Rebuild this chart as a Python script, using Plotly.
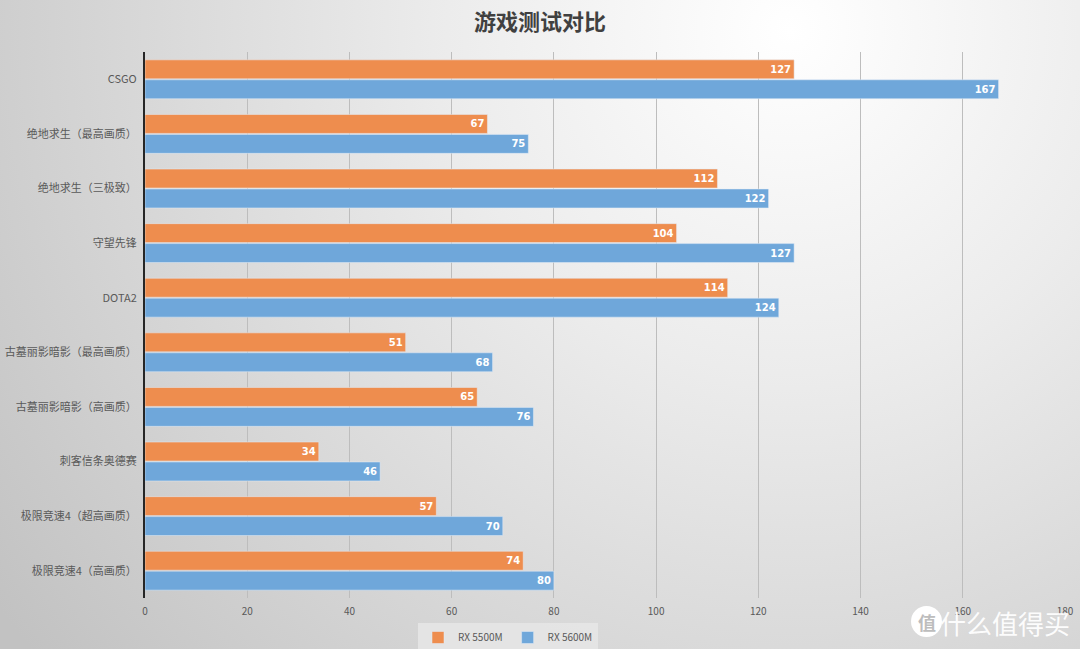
import base64

import plotly.graph_objects as go


# --------------------------------------------------
# DATA
# --------------------------------------------------

games = [
    "CSGO",
    "绝地求生（最高画质）",
    "绝地求生（三极致）",
    "守望先锋",
    "DOTA2",
    "古墓丽影暗影（最高画质）",
    "古墓丽影暗影（高画质）",
    "刺客信条奥德赛",
    "极限竞速4（超高画质）",
    "极限竞速4（高画质）",
]

rx5500m = [127, 67, 112, 104, 114, 51, 65, 34, 57, 74]
rx5600m = [167, 75, 122, 127, 124, 68, 76, 46, 70, 80]

x_ticks = [0, 20, 40, 60, 80, 100, 120, 140, 160, 180]


# --------------------------------------------------
# BACKGROUND (radial grey gradient)
# --------------------------------------------------

W, H = 1080, 649
L, R, T, B = 145, 15, 52, 51

svg = f"""<svg xmlns='http://www.w3.org/2000/svg' width='{W}' height='{H}'>
<defs>
<radialGradient id='g' gradientUnits='userSpaceOnUse' cx='790' cy='30' r='980'>
<stop offset='0' stop-color='#ffffff'/>
<stop offset='0.35' stop-color='#ececec'/>
<stop offset='1' stop-color='#c2c2c2'/>
</radialGradient>
</defs>
<rect width='{W}' height='{H}' fill='url(#g)'/>
</svg>"""

bg_src = "data:image/svg+xml;base64," + base64.b64encode(
    svg.encode("utf-8")
).decode("ascii")

pw = W - L - R
ph = H - T - B


def px_x(v):
    return (v - L) / pw


def px_y(v):
    return (H - B - v) / ph


# --------------------------------------------------
# FIGURE
# --------------------------------------------------

fig = go.Figure()

fig.add_trace(

    go.Bar(

        y=games,

        x=rx5500m,

        name="RX 5500M",

        orientation="h",

        marker=dict(color="#EE8D4E"),

        text=rx5500m,

    )

)

fig.add_trace(

    go.Bar(

        y=games,

        x=rx5600m,

        name="RX 5600M",

        orientation="h",

        marker=dict(color="#6FA7DA"),

        text=rx5600m,

    )

)

fig.update_traces(
    texttemplate="<b>%{text}</b>",
    textposition="inside",
    insidetextanchor="end",
    textfont=dict(color="white", size=10, family="DejaVu Sans"),
    cliponaxis=False
)

fig.update_layout(

    width=W,

    height=H,

    margin=dict(l=L, r=R, t=T, b=B, autoexpand=False),

    paper_bgcolor="rgba(0,0,0,0)",

    plot_bgcolor="rgba(0,0,0,0)",

    barmode="group",

    bargap=0.27,

    bargroupgap=0.05,

    font=dict(family="Noto Sans CJK SC", color="#595959", size=11),

    title=dict(
        text="<b>游戏测试对比</b>",
        x=0.5,
        xref="container",
        y=1 - 22 / H,
        yref="container",
        xanchor="center",
        yanchor="middle",
        font=dict(size=22, color="#404040", family="Noto Sans CJK SC"),
    ),

    legend=dict(
        orientation="h",
        x=px_x(508),
        xanchor="center",
        y=px_y(623),
        yanchor="top",
        bgcolor="rgba(230,230,230,0.9)",
        font=dict(size=10, color="#595959"),
        itemwidth=30,
    ),

    images=[dict(
        source=bg_src,
        xref="paper",
        yref="paper",
        x=-L / pw,
        y=1 + T / ph,
        sizex=W / pw,
        sizey=H / ph,
        sizing="stretch",
        layer="below",
        xanchor="left",
        yanchor="top",
    )],

)

fig.update_xaxes(

    range=[0, 180],

    tickvals=x_ticks,

    showgrid=True,

    gridcolor="#bdbdbd",

    gridwidth=1,

    zeroline=False,

    showline=False,

    automargin=False,

    tickfont=dict(size=10, color="#595959"),

    ticks="",

    ticklabelstandoff=6,

)

fig.update_yaxes(

    autorange="reversed",

    showline=True,

    linecolor="#262626",

    linewidth=2,

    automargin=False,

    ticks="",

    ticklabelstandoff=4,

    tickfont=dict(size=11, color="#595959"),

)

# watermark
fig.add_shape(
    type="circle",
    xref="paper", yref="paper",
    x0=px_x(911), x1=px_x(942),
    y0=px_y(637), y1=px_y(606),
    fillcolor="white",
    line=dict(width=0),
    layer="below",
)

fig.add_annotation(
    text="<b>值</b>",
    xref="paper", yref="paper",
    x=px_x(926.5), y=px_y(621.5),
    xanchor="center", yanchor="middle",
    showarrow=False,
    font=dict(size=18, color="#bdbdbd", family="Noto Sans CJK SC"),
)

fig.add_annotation(
    text="什么值得买",
    xref="paper", yref="paper",
    x=px_x(1005), y=px_y(622),
    xanchor="center", yanchor="middle",
    showarrow=False,
    font=dict(size=26, color="rgba(255,255,255,0.95)", family="Noto Sans CJK SC"),
)

fig.write_html(
    "out.html",
    config={"displayModeBar": False},
    post_script="document.body.style.margin='0';"
)
